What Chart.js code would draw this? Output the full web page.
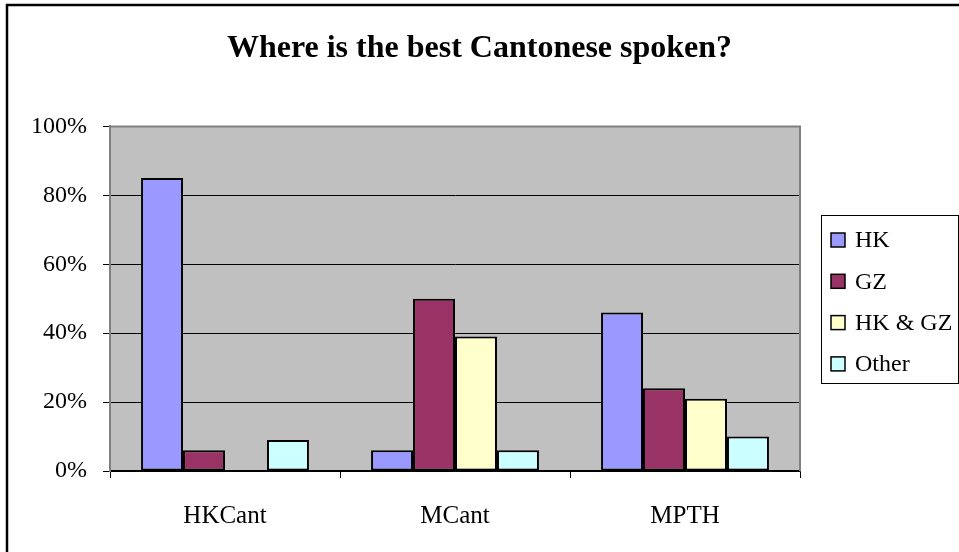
<!DOCTYPE html>
<html>
<head>
<meta charset="utf-8">
<title>Where is the best Cantonese spoken?</title>
<script src="https://cdn.jsdelivr.net/npm/chart.js@4/dist/chart.umd.min.js"></script>
<style>
  body { margin: 0; background: #fff; }
  #wrap { width: 959px; height: 552px; position: relative; }
</style>
</head>
<body>
<div id="wrap"><canvas id="cantonese"></canvas></div>
<script>
// survey data (percent of answers)
const categories = ["HKCant", "MCant", "MPTH"];
const seriesNames = ["HK", "GZ", "HK & GZ", "Other"];
const hkValues = [85, 6, 46];
const gzValues = [6, 50, 24];
const bothValues = [0, 39, 21];
const otherValues = [9, 6, 10];
const yTicks = [0, 20, 40, 60, 80, 100];

const colors = ["#9999FF", "#993366", "#FFFFCC", "#CCFFFF"];
const serif = "'Liberation Serif', 'Times New Roman', serif";

// grey plot area, frame and a boxed legend on the right
const excelLook = {
  id: "excelLook",
  beforeDraw(chart) {
    const { ctx, chartArea: a } = chart;
    ctx.save();
    ctx.fillStyle = "#C0C0C0";
    ctx.fillRect(a.left, a.top, a.right - a.left, a.bottom - a.top);
    ctx.restore();
  },
  afterDraw(chart) {
    const { ctx, chartArea: a } = chart;
    ctx.save();
    // plot border (top / right / left)
    ctx.strokeStyle = "#808080";
    ctx.lineWidth = 2;
    ctx.beginPath();
    ctx.moveTo(a.left, a.bottom);
    ctx.lineTo(a.left, a.top);
    ctx.lineTo(a.right, a.top);
    ctx.lineTo(a.right, a.bottom);
    ctx.stroke();

    // outer frame
    ctx.strokeStyle = "#000";
    ctx.lineWidth = 2.5;
    ctx.strokeRect(7, 5, 980, 580);

    // legend
    const lx = 821, ly = 215, lw = 137, lh = 168;
    ctx.fillStyle = "#fff";
    ctx.fillRect(lx, ly, lw, lh);
    ctx.strokeStyle = "#000";
    ctx.lineWidth = 1;
    ctx.strokeRect(lx + 0.5, ly + 0.5, lw, lh);
    ctx.font = "24px " + serif;
    ctx.textBaseline = "middle";
    chart.data.datasets.forEach((ds, i) => {
      const cy = 240 + i * 41.3;
      ctx.fillStyle = ds.backgroundColor;
      ctx.fillRect(831, cy - 7, 14, 14);
      ctx.lineWidth = 1.5;
      ctx.strokeStyle = "#000";
      ctx.strokeRect(831, cy - 7, 14, 14);
      ctx.fillStyle = "#000";
      ctx.fillText(ds.label, 855, cy + 1);
    });
    ctx.restore();
  }
};

const seriesValues = [hkValues, gzValues, bothValues, otherValues];

new Chart(document.getElementById("cantonese"), {
  type: "bar",
  data: {
    labels: categories,
    datasets: seriesNames.map((name, i) => ({
      label: name,
      data: seriesValues[i],
      backgroundColor: colors[i],
      borderColor: "#000",
      borderWidth: 2,
      borderSkipped: false,
      categoryPercentage: 0.73,
      barPercentage: 1.0,
    })),
  },
  plugins: [excelLook],
  options: {
    responsive: true,
    maintainAspectRatio: false,
    animation: false,
    layout: { padding: 0 },
    plugins: {
      legend: { display: false },
      tooltip: { enabled: false },
      title: {
        display: true,
        text: "Where is the best Cantonese spoken?",
        color: "#000",
        font: { family: serif, size: 32, weight: "bold" },
        padding: { top: 30, bottom: 58 },
      },
    },
    scales: {
      x: {
        grid: {
          offset: true,
          drawOnChartArea: false,
          color: "#000",
          tickLength: 7,
        },
        border: { color: "#000", width: 1.5 },
        ticks: {
          color: "#000",
          padding: 23,
          font: { family: serif, size: 25 },
        },
        afterFit(s) { s.height = 81; },
      },
      y: {
        min: 0,
        max: 100,
        afterBuildTicks(s) { s.ticks = yTicks.map(v => ({ value: v })); },
        grid: { color: "#000", tickColor: "#000", tickLength: 7 },
        border: { color: "#808080", width: 2 },
        ticks: {
          color: "#000",
          padding: 16,
          font: { family: serif, size: 24 },
          callback: v => v + "%",
        },
        afterFit(s) { s.width = 110; },
      },
      // keeps room for the legend on the right
      spacer: {
        type: "linear",
        position: "right",
        grid: { display: false },
        border: { display: false },
        ticks: { display: false },
        afterFit(s) { s.width = 159; },
      },
    },
  },
});
</script>
</body>
</html>
